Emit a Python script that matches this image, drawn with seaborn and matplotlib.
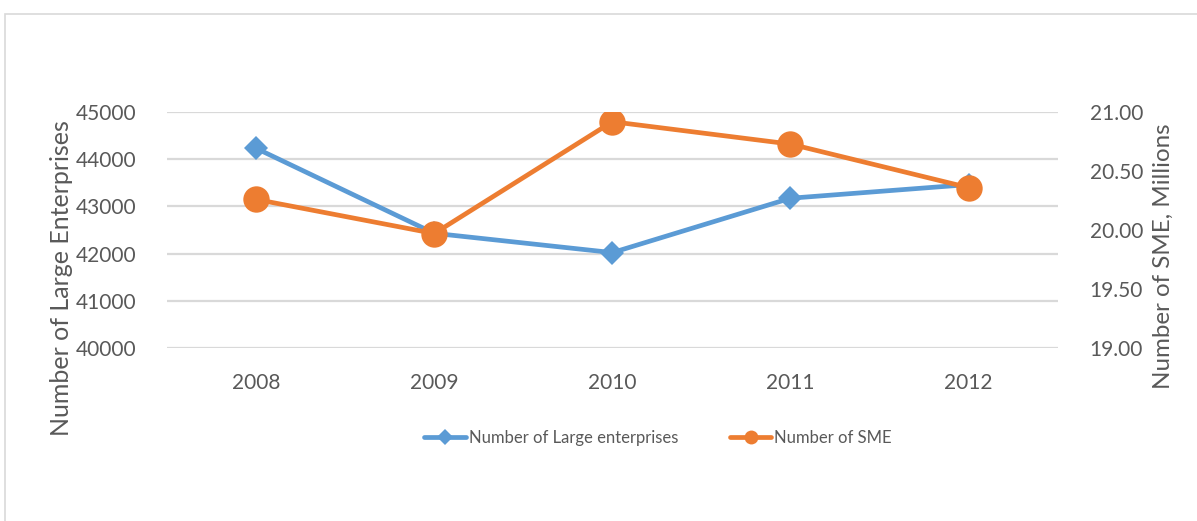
import matplotlib
matplotlib.use("Agg")
import matplotlib.pyplot as plt
from matplotlib.patches import Rectangle
from matplotlib.lines import Line2D
import seaborn as sns
import pandas as pd

years = ["2008", "2009", "2010", "2011", "2012"]
large_enterprises = [44235, 42430, 42020, 43175, 43465]
sme_millions = [20.26, 19.97, 20.92, 20.73, 20.36]

BLUE = "#5B9BD5"
ORANGE = "#ED7D31"
TEXT = "#595959"
GRID = "#D9D9D9"

sns.set_theme(style="white")
plt.rcParams["font.family"] = ["Lato", "DejaVu Sans"]

df = pd.DataFrame({"year": years, "large": large_enterprises, "sme": sme_millions})

fig = plt.figure(figsize=(11.97, 5.21), dpi=100)
ax = fig.add_axes([167 / 1197, 1 - 347.7 / 521, (1057.7 - 167) / 1197, (347.7 - 112.3) / 521])
ax2 = ax.twinx()

sns.lineplot(data=df, x="year", y="large", ax=ax, color=BLUE, linewidth=3.4,
             marker="D", markersize=12.5, markeredgewidth=0, sort=False)
sns.lineplot(data=df, x="year", y="sme", ax=ax2, color=ORANGE, linewidth=3.4,
             marker="o", markersize=19, markeredgewidth=0, sort=False)

ax.set_xlim(-0.5, len(years) - 0.5)
ax.set_ylim(40000, 45000)
ax.set_yticks(range(40000, 45001, 1000))
ax2.set_ylim(19.0, 21.0)
ax2.set_yticks([19.0, 19.5, 20.0, 20.5, 21.0])
ax2.set_yticklabels([f"{v:.2f}" for v in ax2.get_yticks()])

ax.yaxis.grid(True, color=GRID, linewidth=1.6)
ax.xaxis.grid(False)
ax2.grid(False)
for a in (ax, ax2):
    for s in a.spines.values():
        s.set_visible(False)
    a.set_xlabel("")
    a.set_ylabel("")
    a.tick_params(length=0, colors=TEXT, labelsize=15)
ax.tick_params(axis="y", pad=22)
ax.tick_params(axis="x", pad=18)
ax2.tick_params(axis="y", pad=23)

fig.text(62 / 1197, 1 - 278 / 521, "Number of Large Enterprises", rotation=90,
         ha="center", va="center", fontsize=18, color=TEXT)
fig.text(1163 / 1197, 1 - 256 / 521, "Number of SME, Millions", rotation=90,
         ha="center", va="center", fontsize=17.4, color=TEXT)

handles = [
    Line2D([], [], color=BLUE, linewidth=3.4, marker="D", markersize=8, markeredgewidth=0),
    Line2D([], [], color=ORANGE, linewidth=3.4, marker="o", markersize=10, markeredgewidth=0),
]
labels = ["Number of Large enterprises", "Number of SME"]
fig.legend(handles, labels, loc="center", bbox_to_anchor=(658 / 1197, 1 - 438 / 521),
           ncol=2, frameon=False, fontsize=12, handlelength=2.5, handletextpad=0.15,
           columnspacing=3.1, labelcolor=TEXT)

fig.patches.append(Rectangle((4.5 / 1197, -0.1), 1.2, 1.1 - 13.5 / 521, transform=fig.transFigure,
                             fill=False, edgecolor=GRID, linewidth=1.2))

fig.savefig("out.png", dpi=100, facecolor="white")
